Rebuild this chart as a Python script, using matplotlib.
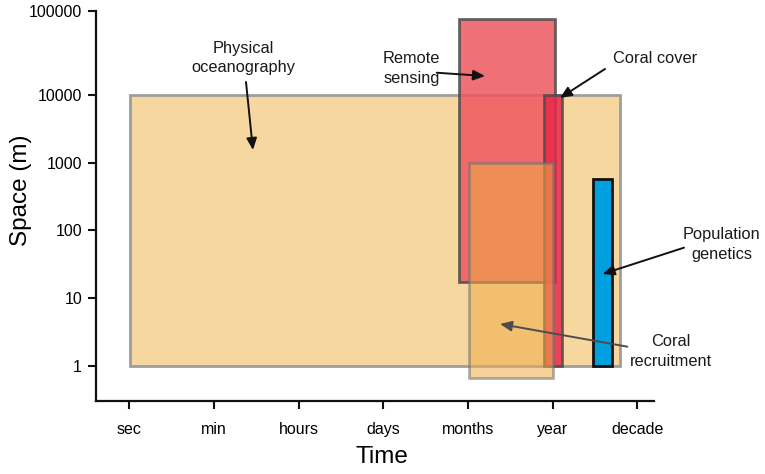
import numpy as np
import matplotlib
matplotlib.use("Agg")
import matplotlib.pyplot as plt
from matplotlib.patches import Rectangle
from matplotlib.ticker import FixedLocator, FixedFormatter, NullLocator

plt.rcParams['font.family'] = ['Liberation Sans', 'DejaVu Sans']

# time axis categories (evenly spaced positions 0..6)
time_labels = ['sec', 'min', 'hours', 'days', 'months', 'year', 'decade']
space_ticks = [1, 10, 100, 1000, 10000, 100000]
space_labels = ['1', '10', '100', '1000', '10000', '100000']

# boxes: time extent (category units) and space extent (m)
box_names = ['Physical oceanography', 'Remote sensing', 'Coral cover',
             'Coral recruitment', 'Population genetics']
t_start = [0.01, 3.89, 4.90, 4.01, 5.48]
t_end = [5.79, 5.03, 5.11, 5.00, 5.695]
s_min = [1, 17.5, 1, 0.67, 1]
s_max = [10000, 80000, 10000, 1000, 570]

box_face = ['#F7D7A0', '#EE5760', '#E8284A', '#EFAA48', '#009FE0']
box_alpha = [1.0, 0.85, 0.85, 0.55, 1.0]
box_edge = ['#9E9E9E', '#4D4D4D', '#4D4D4D', '#707070', '#111111']

# label text positions, arrow tail and head (time, space)
label_text = ['Physical\noceanography', 'Remote\nsensing', 'Coral cover',
              'Coral\nrecruitment', 'Population\ngenetics']
label_pos = [(1.342, 10**4.44), (3.33, 10**4.32), (5.71, 10**4.44),
             (6.392, 10**0.211), (6.994, 10**1.793)]
label_ha = ['center', 'center', 'left', 'center', 'center']
arrow_tail = [(1.378, 10**4.155), (3.63, 10**4.265), (5.617, 10**4.31),
              (5.88, 10**0.285), (6.549, 10**1.746)]
arrow_head = [(1.46, 10**3.188), (4.20, 10**4.226), (5.085, 10**3.956),
              (4.377, 10**0.62), (5.589, 10**1.358)]
arrow_color = ['#111111', '#111111', '#111111', '#4D4D4D', '#111111']

# the top decade of the original drawing is a bit taller than the others
STRETCH = 84 / 67.75


def forward(y):
    l = np.log10(np.clip(y, 1e-10, None))
    return np.where(l <= 4, l, 4 + (l - 4) * STRETCH)


def inverse(u):
    u = np.asarray(u, dtype=float)
    return np.where(u <= 4, 10 ** u, 10 ** (4 + (u - 4) / STRETCH))


fig = plt.figure(figsize=(7.65, 4.74), dpi=100)
ax = fig.add_axes([96 / 765, 1 - 401 / 474, 558 / 765, 390 / 474])
ax.set_yscale('function', functions=(forward, inverse))
ax.set_xlim(-0.393, 6.195)
ax.set_ylim(0.304, 100000)

arrow_kw = dict(arrowstyle='-|>,head_length=0.5,head_width=0.22', lw=1.4,
                mutation_scale=14, shrinkA=0, shrinkB=0)

# draw boxes; recruitment arrow goes behind the blue bar
for i in range(len(box_names)):
    if i == 4:
        ax.annotate('', xy=arrow_head[3], xytext=arrow_tail[3],
                    arrowprops=dict(color=arrow_color[3], **arrow_kw))
    ax.add_patch(Rectangle((t_start[i], s_min[i]), t_end[i] - t_start[i], s_max[i] - s_min[i],
                           facecolor=box_face[i], edgecolor=box_edge[i], alpha=box_alpha[i],
                           lw=2, zorder=2))

for i in range(len(box_names)):
    ax.text(label_pos[i][0], label_pos[i][1], label_text[i], fontsize=11.8, ha=label_ha[i],
            va='center', multialignment='center', color='#1a1a1a', linespacing=1.4,
            clip_on=False, zorder=5)
    if i != 3:
        ax.annotate('', xy=arrow_head[i], xytext=arrow_tail[i], annotation_clip=False,
                    arrowprops=dict(color=arrow_color[i], **arrow_kw), zorder=5)

ax.set_xticks(range(len(time_labels)))
ax.set_xticklabels(time_labels)
ax.yaxis.set_major_locator(FixedLocator(space_ticks))
ax.yaxis.set_major_formatter(FixedFormatter(space_labels))
ax.yaxis.set_minor_locator(NullLocator())
ax.tick_params(axis='both', labelsize=11.5, length=6, width=1.5, color='#111111')
ax.tick_params(axis='x', pad=9)
ax.tick_params(axis='y', pad=4)

for side in ['top', 'right']:
    ax.spines[side].set_visible(False)
for side in ['left', 'bottom']:
    ax.spines[side].set_linewidth(1.6)
    ax.spines[side].set_color('#111111')

ax.set_xlabel('Time', fontsize=17.5)
ax.set_ylabel('Space (m)', fontsize=17.5)
ax.xaxis.set_label_coords(0.512, -0.115)
ax.yaxis.set_label_coords(-0.115, 0.54)

fig.savefig('out.png', dpi=100)
